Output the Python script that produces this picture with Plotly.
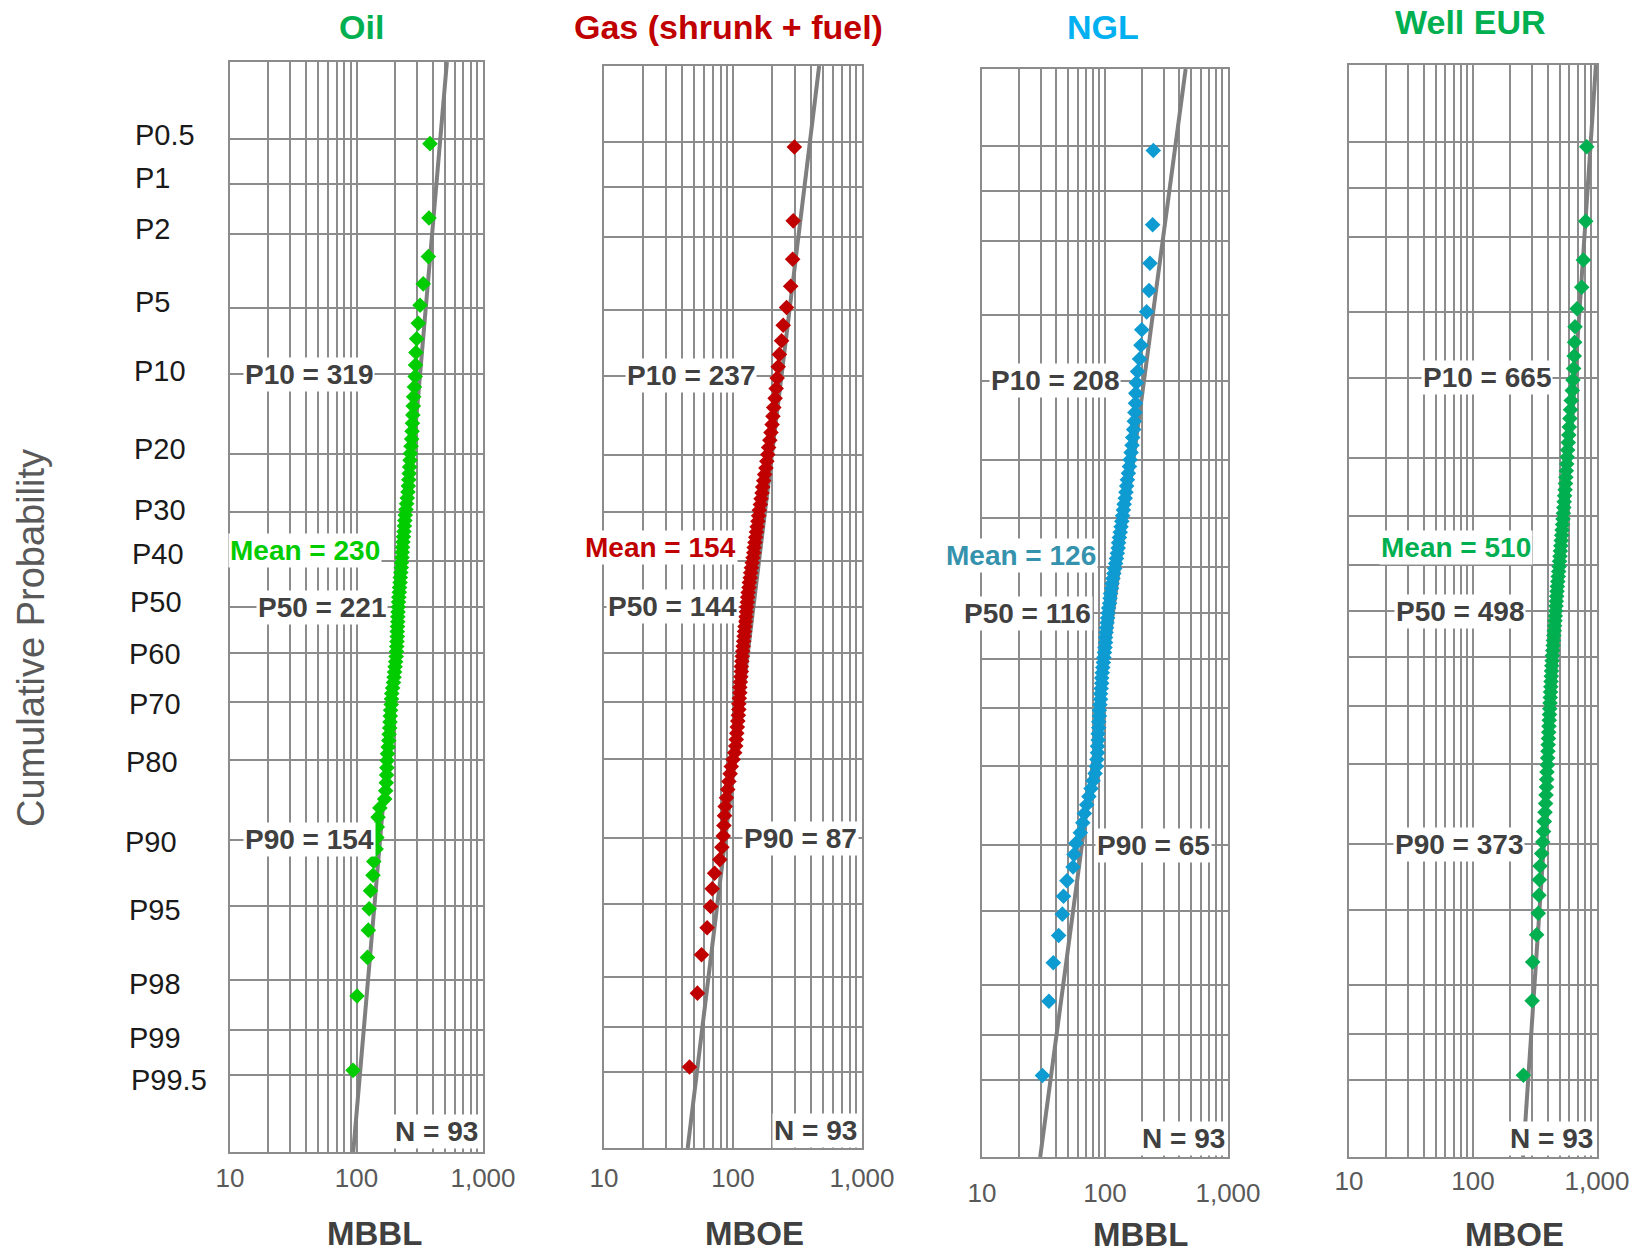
import math
from statistics import NormalDist
import plotly.graph_objects as go

# ---------------- DATA ----------------
panel_titles = ["Oil", "Gas (shrunk + fuel)", "NGL", "Well EUR"]
unit_labels = ["MBBL", "MBOE", "MBBL", "MBOE"]

p10_vals = [319, 237, 208, 665]
p50_vals = [221, 144, 116, 498]
p90_vals = [154, 87, 65, 373]
mean_vals = [230, 154, 126, 510]
n_wells = [93, 93, 93, 93]

prob_levels = [0.5, 1, 2, 5, 10, 20, 30, 40, 50, 60, 70, 80, 90, 95, 98, 99, 99.5]
prob_labels = ["P0.5", "P1", "P2", "P5", "P10", "P20", "P30", "P40", "P50",
               "P60", "P70", "P80", "P90", "P95", "P98", "P99", "P99.5"]
x_tickvals = [10, 100, 1000]
x_ticktext = ["10", "100", "1,000"]

oil_eur = [381, 374, 370, 337, 318, 308, 299, 295, 293, 291,
           287, 283, 281, 279, 277, 275, 273, 270, 267, 265,
           263, 261, 259, 257, 255, 252, 249, 246, 243, 241,
           239, 237, 235, 233, 231, 230, 229, 227, 226, 224,
           222, 221, 219, 218, 216, 215, 214, 213, 212, 212,
           211, 210, 210, 209, 208, 207, 206, 204, 202, 200,
           198, 196, 193, 190, 189, 188, 186, 185, 184, 183,
           181, 180, 178, 176, 175, 174, 173, 172, 170, 167,
           153, 148, 146, 145, 143, 137, 135, 129, 126, 124,
           122, 101, 94]

gas_eur = [299, 293, 290, 280, 260, 245, 238, 229, 224, 220,
           216, 212, 207, 204, 201, 197, 193, 189, 186, 183,
           180, 176, 173, 170, 168, 165, 163, 160, 158, 156,
           154, 152, 150, 148, 146, 145, 143, 141, 139, 137,
           136, 134, 133, 131, 130, 129, 128, 127, 126, 125,
           124, 123, 122, 121, 120, 119, 118, 117, 116, 116,
           115, 114, 113, 113, 112, 111, 111, 110, 109, 108,
           107, 106, 105, 103, 100, 97, 95, 93, 91, 89,
           87, 86, 85, 84, 82, 79, 72, 69, 67, 63,
           57, 53, 46]

ngl_eur = [247, 244, 232, 228, 218, 199, 196, 191, 184, 180,
           178, 177, 175, 173, 171, 168, 166, 163, 160, 158,
           155, 152, 150, 148, 146, 143, 141, 139, 137, 135,
           133, 131, 129, 128, 126, 124, 122, 120, 118, 116,
           114, 113, 111, 110, 109, 107, 106, 105, 104, 103,
           102, 101, 101, 100, 99, 98, 97, 96, 95, 94,
           94, 93, 92, 92, 91, 90, 90, 89, 89, 88,
           88, 87, 87, 86, 85, 83, 80, 77, 74, 71,
           68, 66, 63, 58, 56, 55, 49, 46, 45, 42,
           38, 35, 31]

well_eur = [826, 811, 776, 753, 690, 665, 660, 655, 648, 640,
            632, 620, 612, 605, 598, 592, 586, 580, 575, 570,
            566, 561, 557, 553, 548, 544, 540, 536, 532, 528,
            523, 519, 515, 511, 507, 503, 499, 495, 491, 487,
            483, 479, 476, 473, 470, 467, 464, 461, 458, 455,
            452, 449, 446, 443, 440, 437, 435, 432, 430, 428,
            426, 424, 422, 420, 418, 416, 414, 412, 410, 408,
            406, 404, 402, 400, 398, 395, 393, 391, 388, 385,
            381, 376, 371, 365, 358, 347, 343, 340, 336, 326,
            303, 300, 255]

series = [oil_eur, gas_eur, ngl_eur, well_eur]

# ---------------- STYLE ----------------
W, H = 1644, 1254
FONT = "Liberation Sans, Arial, sans-serif"
title_colors = ["#00B050", "#C00000", "#00B0F0", "#00B050"]
marker_colors = ["#00CC00", "#C00000", "#0E9BD2", "#00B050"]
mean_colors = ["#00CC00", "#C00000", "#3592AD", "#00B050"]
GRID = "#8C8C8C"
THICK = "#7A7A7A"
LABEL = "#404040"

# plot frames in pixels (x0, x1, ytop, ybottom)
frames = [(230, 483, 62, 1152), (604, 862, 66, 1148),
          (982, 1228, 69, 1157), (1349, 1597, 65, 1157)]
title_pos = [(361, 27), (728, 27), (1103, 27), (1470, 22)]
unit_pos = [(374, 1233), (754, 1233), (1140, 1234), (1514, 1234)]
p10_x = [309, 691, 1055, 1487]
p50_x = [322, 672, 1027, 1460]
p90_x = [309, 800, 1153, 1459]
mean_pos = [(305, 550), (660, 547), (1021, 556), (1456, 547)]
n_pos = [(437, 1131), (815, 1130), (1183, 1138), (1551, 1138)]
tick_standoff = [2, 6, 12, 0]
plabel_left = [133, 133, 133, 133, 132, 132, 132, 130, 128,
               127, 127, 124, 123, 127, 127, 127, 129]
plabel_shift = [4, 6, 5, 6, 3, 5, 2, 7, 5, -1, -2, -2, -2, -4, -4, -8, -5]

nd = NormalDist()


def z_exceed(p_pct):
    return nd.inv_cdf(1.0 - p_pct / 100.0)


def px(x):
    return x / W


def py(y):
    return 1.0 - y / H


minor_vals = [m * d for d in (10, 100) for m in range(2, 10)]
log_lo, log_hi = math.log10(x_tickvals[0]), math.log10(x_tickvals[-1])

fig = go.Figure()
annotations = []
shapes = []
layout_axes = {}

for k in range(4):
    sfx = "" if k == 0 else str(k + 1)
    xa, ya = "x" + sfx, "y" + sfx
    vals = sorted(series[k], reverse=True)
    n = len(vals)
    zs = [nd.inv_cdf(1.0 - (i + 0.5) / n) for i in range(n)]

    # lognormal fit line through P10 / P50 / P90
    sigma = math.log(p10_vals[k] / p90_vals[k]) / (2 * z_exceed(10))
    zl = [-3 + 0.5 * j for j in range(13)]
    xl = [p50_vals[k] * math.exp(sigma * z) for z in zl]
    fig.add_trace(go.Scatter(x=xl, y=zl, mode="lines",
                             line=dict(color="#7F7F7F", width=4),
                             xaxis=xa, yaxis=ya, hoverinfo="skip",
                             showlegend=False))
    fig.add_trace(go.Scatter(x=vals, y=zs, mode="markers",
                             marker=dict(symbol="diamond", size=12,
                                         color=marker_colors[k],
                                         line=dict(width=0)),
                             xaxis=xa, yaxis=ya, showlegend=False))

    x0, x1, yt, yb = frames[k]
    layout_axes["xaxis" + sfx] = dict(
        type="log", range=[log_lo, log_hi], domain=[px(x0), px(x1)], anchor=ya,
        tickvals=x_tickvals, ticktext=x_ticktext, ticks="",
        tickfont=dict(size=26, color="#595959", family=FONT),
        ticklabelstandoff=tick_standoff[k],
        showgrid=True, gridcolor=GRID, gridwidth=1.5,
        minor=dict(tickvals=minor_vals, showgrid=True, gridcolor=GRID,
                   gridwidth=1.5, ticks=""),
        showline=True, mirror=True, linecolor=GRID, linewidth=2,
        zeroline=False, fixedrange=True)
    layout_axes["yaxis" + sfx] = dict(
        range=[-3, 3], domain=[py(yb), py(yt)], anchor=xa,
        tickvals=[z_exceed(p) for p in prob_levels], showticklabels=False,
        ticks="", showgrid=True, gridcolor=GRID, gridwidth=2,
        showline=True, mirror=True, linecolor=GRID, linewidth=2,
        zeroline=False, fixedrange=True)

    # thicker P10 / P50 / P90 lines (log axis: shape x in log10 units)
    for pv in (10, 50, 90):
        shapes.append(dict(type="line", xref=xa, x0=log_lo, x1=log_hi,
                           yref=ya, y0=z_exceed(pv), y1=z_exceed(pv),
                           line=dict(color=THICK, width=3.5), layer="below"))
    if k == 3:
        shapes.append(dict(type="line", xref=xa, x0=log_lo, x1=log_hi,
                           yref=ya, y0=-3, y1=-3,
                           line=dict(color="#000000", width=3.5), layer="above"))

    # title
    annotations.append(dict(text="<b>%s</b>" % panel_titles[k], xref="paper",
                            yref="paper", x=px(title_pos[k][0]),
                            y=py(title_pos[k][1]), showarrow=False,
                            xanchor="center", yanchor="middle",
                            font=dict(size=34, color=title_colors[k], family=FONT)))
    # units
    annotations.append(dict(text="<b>%s</b>" % unit_labels[k], xref="paper",
                            yref="paper", x=px(unit_pos[k][0]),
                            y=py(unit_pos[k][1]), showarrow=False,
                            xanchor="center", yanchor="middle",
                            font=dict(size=33, color=LABEL, family=FONT)))
    # percentile labels
    for xpos, pv, val in ((p10_x[k], 10, p10_vals[k]), (p50_x[k], 50, p50_vals[k]),
                          (p90_x[k], 90, p90_vals[k])):
        annotations.append(dict(text="<b>P%d = %d</b>" % (pv, val), xref="paper",
                                yref=ya, x=px(xpos), y=z_exceed(pv),
                                showarrow=False, xanchor="center",
                                yanchor="middle", bgcolor="white", borderpad=1,
                                font=dict(size=28, color=LABEL, family=FONT)))
    annotations.append(dict(text="<b>Mean = %d</b>" % mean_vals[k], xref="paper",
                            yref="paper", x=px(mean_pos[k][0]),
                            y=py(mean_pos[k][1]), showarrow=False,
                            xanchor="center", yanchor="middle", bgcolor="white",
                            borderpad=1,
                            font=dict(size=28, color=mean_colors[k], family=FONT)))
    annotations.append(dict(text="<b>N = %d</b>" % n_wells[k], xref="paper",
                            yref="paper", x=px(n_pos[k][0]), y=py(n_pos[k][1]),
                            showarrow=False, xanchor="center", yanchor="middle",
                            bgcolor="white", borderpad=1,
                            font=dict(size=28, color=LABEL, family=FONT)))

# probability labels on the left
for lab, pv, xl_, ys in zip(prob_labels, prob_levels, plabel_left, plabel_shift):
    annotations.append(dict(text=lab, xref="paper", yref="y", x=px(xl_),
                            y=z_exceed(pv), yshift=ys, showarrow=False,
                            xanchor="left", yanchor="middle",
                            font=dict(size=29, color="#1A1A1A", family=FONT)))

annotations.append(dict(text="Cumulative Probability", xref="paper", yref="paper",
                        x=px(31), y=py(638), textangle=-90, showarrow=False,
                        xanchor="center", yanchor="middle",
                        font=dict(size=38, color="#595959", family=FONT)))

fig.update_layout(width=W, height=H, autosize=False,
                  margin=dict(l=0, r=0, t=0, b=0, autoexpand=False),
                  paper_bgcolor="white", plot_bgcolor="white",
                  font=dict(family=FONT), showlegend=False,
                  annotations=annotations, shapes=shapes, **layout_axes)

fig.write_html("out.html",
               config={"displayModeBar": False},
               post_script="document.body.style.margin='0';"
                           "document.body.style.overflow='hidden';")
